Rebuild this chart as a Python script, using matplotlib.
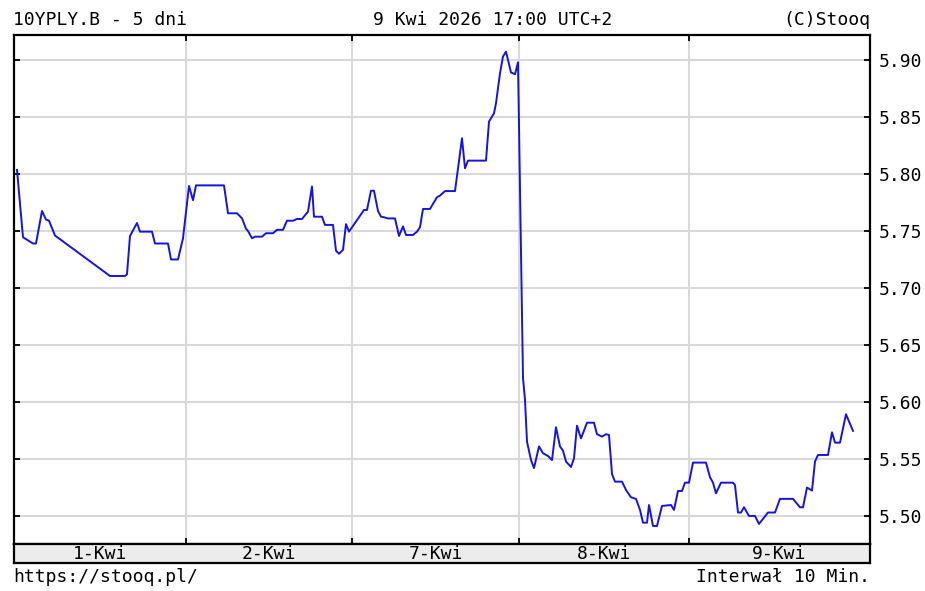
import matplotlib
matplotlib.use("Agg")
import matplotlib.pyplot as plt

# time index (10-min bars, scaled) and yield values
t = [3, 9, 19, 22, 28, 32, 35, 41, 96, 111, 113, 116, 123, 126, 138, 141, 154, 157, 164, 169,
     175, 179, 182, 210, 214, 223, 228, 232, 234, 238, 241, 248, 252, 259, 263, 269, 273, 279, 283, 288,
     294, 298, 300, 308, 311, 319, 322, 325, 329, 332, 335, 350, 353, 357, 360, 364, 367, 370, 374, 381,
     385, 389, 392, 399, 403, 406, 409, 416, 423, 426, 431, 441, 448, 451, 454, 472, 475, 480, 482, 486,
     489, 492, 497, 501, 504, 509, 511, 513, 517, 520, 525, 529, 534, 538, 542, 546, 549, 552, 557, 560,
     563, 567, 573, 580, 583, 588, 592, 595, 598, 601, 608, 612, 617, 622, 626, 629, 633, 635, 639, 643,
     648, 657, 660, 664, 668, 671, 675, 679, 692, 696, 699, 702, 707, 719, 721, 724, 727, 730, 735, 741,
     745, 754, 761, 766, 779, 786, 789, 793, 798, 801, 804, 814, 818, 821, 826, 832, 839]
yld = [5.8035, 5.7445, 5.739, 5.739, 5.7675, 5.760, 5.759, 5.746, 5.7105, 5.7105, 5.712, 5.7456, 5.757, 5.7494, 5.7494, 5.739, 5.739, 5.725, 5.725, 5.7435,
       5.7895, 5.777, 5.790, 5.790, 5.7655, 5.7655, 5.7611, 5.752, 5.750, 5.7436, 5.745, 5.745, 5.748, 5.748, 5.751, 5.751, 5.759, 5.759, 5.7605, 5.7605,
       5.767, 5.789, 5.7625, 5.7625, 5.7553, 5.7553, 5.7327, 5.730, 5.7334, 5.756, 5.7494, 5.7684, 5.7684, 5.7853, 5.7853, 5.7675, 5.7625, 5.762, 5.761, 5.761,
       5.7456, 5.754, 5.7465, 5.7465, 5.7494, 5.7533, 5.7693, 5.7693, 5.7796, 5.781, 5.785, 5.785, 5.8313, 5.805, 5.8117, 5.8117, 5.8459, 5.8532, 5.862, 5.8883,
       5.903, 5.9073, 5.889, 5.8875, 5.898, 5.621, 5.6018, 5.5652, 5.549, 5.542, 5.561, 5.555, 5.5526, 5.549, 5.5778, 5.561, 5.5573, 5.5477, 5.543, 5.5506,
       5.5792, 5.568, 5.5818, 5.5818, 5.5717, 5.5696, 5.5717, 5.5711, 5.5368, 5.5301, 5.5301, 5.5228, 5.5164, 5.515, 5.5053, 5.4941, 5.4941, 5.5096, 5.4912, 5.4912,
       5.5088, 5.5096, 5.5053, 5.5219, 5.5219, 5.5292, 5.5292, 5.5468, 5.5468, 5.534, 5.5292, 5.5199, 5.5292, 5.5292, 5.527, 5.503, 5.503, 5.5076, 5.50, 5.50,
       5.493, 5.503, 5.503, 5.515, 5.515, 5.5076, 5.5076, 5.5249, 5.5223, 5.5477, 5.5535, 5.5535, 5.5734, 5.5643, 5.5643, 5.5892, 5.5746]

day_bounds = [0, 172, 338, 505, 675, 856]
day_labels = ["1-Kwi", "2-Kwi", "7-Kwi", "8-Kwi", "9-Kwi"]
y_ticks = [5.50, 5.55, 5.60, 5.65, 5.70, 5.75, 5.80, 5.85, 5.90]

plt.rcParams['font.family'] = ['DejaVu Sans Mono']
plt.rcParams['font.size'] = 13

W, H = 925, 591
fig = plt.figure(figsize=(W / 100, H / 100), dpi=100)

def fx(px):
    return px / W

def fy(py):
    return 1 - py / H

# main plot
ax = fig.add_axes([fx(14), fy(544), fx(870) - fx(14), fy(35) - fy(544)])
ax.plot(t, yld, color="#1414dc", lw=1.4, zorder=3)
ax.set_xlim(day_bounds[0], day_bounds[-1])
ax.set_ylim(5.4754, 5.9219)
ax.set_yticks(y_ticks)
ax.set_yticklabels([f"{v:.2f}" for v in y_ticks])
ax.set_xticks(day_bounds[1:-1])
ax.grid(True, color="#d9d9d9", lw=1.5, zorder=0)
ax.tick_params(axis="y", left=True, right=True, labelleft=False, labelright=True,
               direction="in", length=4, width=1.3, pad=6, labelsize=13)
ax.tick_params(axis="x", top=True, bottom=True, labelbottom=False,
               direction="in", length=4, width=1.3)
for s in ax.spines.values():
    s.set_linewidth(1.6)

# day band
ax2 = fig.add_axes([fx(14), fy(563), fx(870) - fx(14), fy(544) - fy(563)])
ax2.set_facecolor("#ececec")
ax2.set_xlim(day_bounds[0], day_bounds[-1])
ax2.set_ylim(0, 1)
ax2.set_xticks([])
ax2.set_yticks([])
for s in ax2.spines.values():
    s.set_linewidth(1.6)
for i, lab in enumerate(day_labels):
    ax2.text((day_bounds[i] + day_bounds[i + 1]) / 2, 0.45, lab, ha="center", va="center", fontsize=13)

# header / footer
fig.text(fx(13), fy(20), "10YPLY.B - 5 dni", ha="left", va="center", fontsize=13)
fig.text(fx(373), fy(20), "9 Kwi 2026 17:00 UTC+2", ha="left", va="center", fontsize=13)
fig.text(fx(870), fy(20), "(C)Stooq", ha="right", va="center", fontsize=13)
fig.text(fx(13), fy(577), "https://stooq.pl/", ha="left", va="center", fontsize=13)
fig.text(fx(870), fy(577), "Interwał 10 Min.", ha="right", va="center", fontsize=13)

fig.savefig("out.png", dpi=100)
